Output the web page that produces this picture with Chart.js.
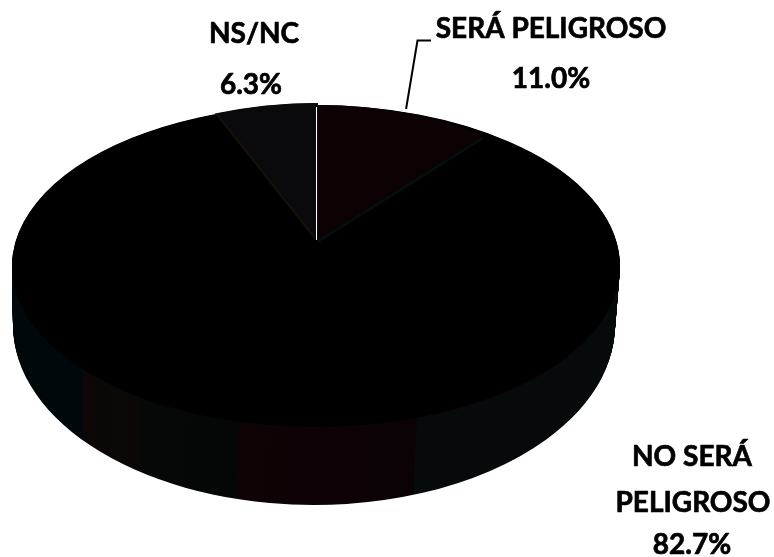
<!DOCTYPE html>
<html><head><meta charset="utf-8">
<style>html,body{margin:0;padding:0;background:#fff}canvas{display:block}</style>
<script src="https://cdn.jsdelivr.net/npm/chart.js@4/dist/chart.umd.min.js"></script>
</head><body>
<canvas id="c" width="774" height="557"></canvas>
<script>
const categories = ['SERÁ PELIGROSO', 'NO SERÁ PELIGROSO', 'NS/NC'];
const values = [11.0, 82.7, 6.3];
const sliceColors = ['#0c0204', '#000000', '#0a0a0c'];
const labelLines = [['SERÁ PELIGROSO'], ['NO SERÁ', 'PELIGROSO'], ['NS/NC']];

// Layout of the tilted pie (style only, no data)
const topFace = {cx: 316, cy: 266, rx: 304, ry: 161};
const baseFace = {cx: 314, cy: 325, rx: 301, ry: 180};
const wedges = [
  {cx: 318, cy: 240, rx: 260, ry: 135, edge: '#03100f', dx: 0, dy: 3},
  null,
  {cx: 315, cy: 240, rx: 260, ry: 137, edge: '#15100a', dx: 3, dy: 0}
];
const labelPos = [[{x: 551, y: 29}, {x: 551, y: 79}],
                  [{x: 692, y: 457}, {x: 693, y: 503}, {x: 692, y: 545}],
                  [{x: 254, y: 34}, {x: 251, y: 85}]];
const sideBands = [[0, '#01080b'], [0.115, '#01080b'], [0.117, '#0d0707'], [0.21, '#0a0807'],
                   [0.215, '#050807'], [0.37, '#040706'], [0.375, '#0e0305'], [0.665, '#0b0206'],
                   [0.667, '#070a0b'], [1, '#070a0b']];

function paint(ctx, arc, face, fill, dx = 0, dy = 0) {
  const R = arc.outerRadius, saved = arc.options;
  ctx.save();
  ctx.translate(face.cx + dx, face.cy + dy);
  ctx.scale(face.rx / R, face.ry / R);
  ctx.translate(-arc.x, -arc.y);
  arc.options = Object.assign({}, saved, {backgroundColor: fill, borderWidth: 0});
  arc.draw(ctx);
  arc.options = saved;
  ctx.restore();
}

const pie3d = {
  id: 'pie3d',
  beforeDatasetsDraw(chart) {
    const ctx = chart.ctx, arcs = chart.getDatasetMeta(0).data, a0 = arcs[0], R = a0.outerRadius;
    const g = ctx.createLinearGradient(a0.x - R, 0, a0.x + R, 0);
    sideBands.forEach(([s, c]) => g.addColorStop(s, c));
    const steps = 90;
    for (let k = steps; k >= 1; k--) {
      const t = k / steps;
      const f = {};
      for (const p of ['cx', 'cy', 'rx', 'ry']) f[p] = topFace[p] + (baseFace[p] - topFace[p]) * t;
      arcs.forEach(a => paint(ctx, a, f, g));
    }
    arcs.forEach(a => paint(ctx, a, topFace, sliceColors[1]));
    arcs.forEach((a, i) => {
      const w = wedges[i];
      if (!w) return;
      if (w.dy) paint(ctx, a, w, w.edge, 0, w.dy);
      if (w.dx) paint(ctx, a, w, w.edge);
      paint(ctx, a, w, sliceColors[i], w.dx, 0);
    });
    return false;
  },
  afterDraw(chart) {
    const ctx = chart.ctx, w = wedges[0], a = chart.getDatasetMeta(0).data[0];
    const mid = (a.startAngle + a.endAngle) / 2;
    // gap between the two small slices
    ctx.strokeStyle = '#ffffff';
    ctx.lineWidth = 1;
    ctx.beginPath();
    ctx.moveTo(316.5, w.cy - w.ry + 2);
    ctx.lineTo(316.5, w.cy);
    ctx.stroke();
    // leader line of the first label, from the middle of its slice
    ctx.strokeStyle = '#000000';
    ctx.lineWidth = 2;
    ctx.beginPath();
    ctx.moveTo(w.cx + w.rx * Math.cos(mid), w.cy + w.ry * Math.sin(mid) - 4);
    ctx.lineTo(417.5, 40.5);
    ctx.lineTo(431, 40.5);
    ctx.stroke();
    // labels
    ctx.fillStyle = '#000000';
    ctx.strokeStyle = '#000000';
    ctx.lineWidth = 0.7;
    ctx.lineJoin = 'round';
    ctx.font = 'bold 28px Lato';
    ctx.textAlign = 'center';
    ctx.textBaseline = 'middle';
    categories.forEach((_, i) => {
      const lines = labelLines[i].concat(values[i].toFixed(1) + '%');
      lines.forEach((t, j) => {
        ctx.fillText(t, labelPos[i][j].x, labelPos[i][j].y);
        ctx.strokeText(t, labelPos[i][j].x, labelPos[i][j].y);
      });
    });
  }
};

new Chart(document.getElementById('c'), {
  type: 'pie',
  data: {labels: categories, datasets: [{data: values, backgroundColor: sliceColors, borderWidth: 0}]},
  options: {
    responsive: false,
    animation: false,
    rotation: 0,
    layout: {padding: 0},
    plugins: {legend: {display: false}, tooltip: {enabled: false}, title: {display: false}}
  },
  plugins: [pie3d]
});
</script>
</body></html>
